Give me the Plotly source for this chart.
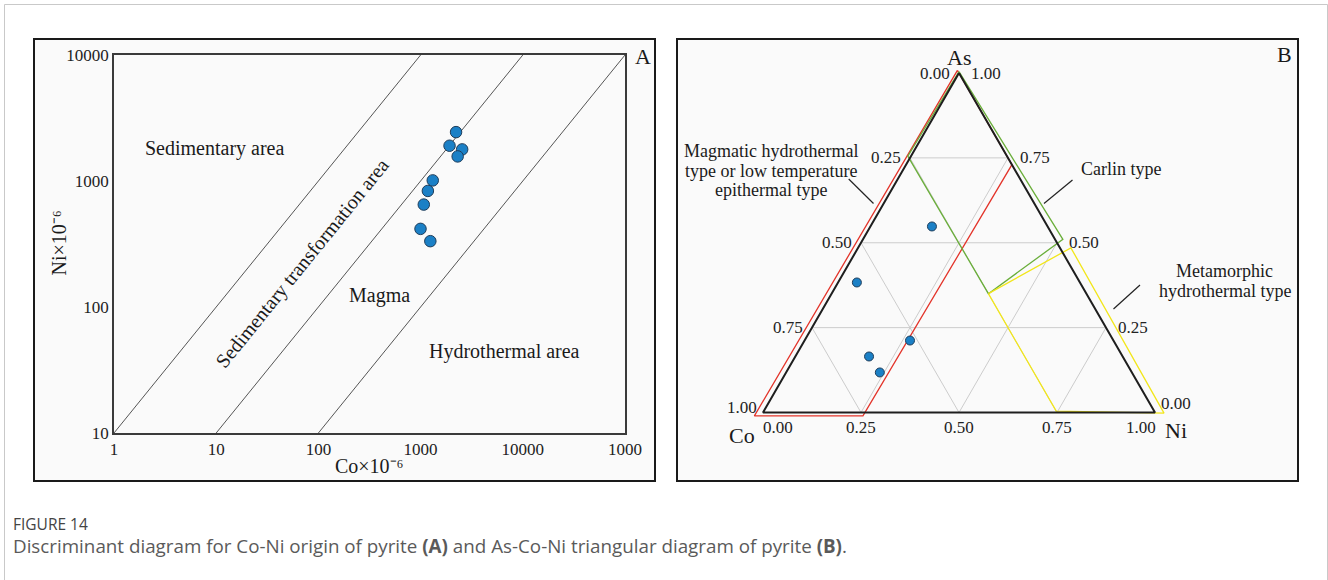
import math
import plotly.graph_objects as go

W, H = 1328, 580
SERIF = "Liberation Serif, Times New Roman, serif"
SANS = "Open Sans, Noto Sans, sans-serif"


def px(x):
    return x / W


def py(y):
    return 1 - y / H


# ---------------- Panel A: Co-Ni origin discriminant diagram ----------------
co_ppm = [2223, 1919, 2551, 2305, 1315, 1178, 1074, 998, 1245]
ni_ppm = [2443, 1905, 1782, 1567, 1011, 834, 650, 417, 333]

# boundary lines Ni = ratio * Co
boundary_ratios = [10, 1, 0.1]
a_ni_limits = [10, 10000]

a_tickvals = [1, 10, 100, 1000, 10000, 100000]
a_xticktext = ["1", "10", "100", "1000", "10000", "1000"]
a_ytickvals = [10, 100, 1000, 10000]
a_yticktext = ["10", "100", "1000", "10000"]

# ---------------- Panel B: As-Co-Ni ternary diagram ----------------
pt_as = [0.548, 0.383, 0.212, 0.165, 0.118]
pt_co = [0.295, 0.569, 0.519, 0.647, 0.643]
pt_ni = [0.157, 0.048, 0.269, 0.188, 0.239]

grid_vals = [0.25, 0.5, 0.75]
tern_ticks = [0.0, 0.25, 0.5, 0.75, 1.0]

# field outlines (As, Co, Ni)
red_as = [1.008, -0.010, -0.010, 0.730, 1.008]
red_co = [0.000, 1.027, 0.750, 0.000, 0.000]
red_ni = [-0.008, -0.017, 0.260, 0.270, -0.008]

green_as = [1.004, 0.755, 0.350, 0.510, 1.004]
green_co = [-0.002, 0.253, 0.250, -0.020, -0.002]
green_ni = [-0.002, -0.008, 0.400, 0.510, -0.002]

yellow_as = [0.350, 0.485, -0.002, 0.004, 0.350]
yellow_co = [0.250, -0.028, -0.022, 0.250, 0.250]
yellow_ni = [0.400, 0.543, 1.024, 0.746, 0.400]

S3 = math.sqrt(3) / 2


def tx(a, b, c):
    # Co at (0,0), Ni at (1,0), As at the top vertex
    return c + a / 2


def ty(a, b, c):
    return a * S3


def tern_xy(A, B, C):
    return [tx(a, b, c) for a, b, c in zip(A, B, C)], [ty(a, b, c) for a, b, c in zip(A, B, C)]


fig = go.Figure()

# panel frames
for x0, x1 in [(34, 655), (677, 1298)]:
    fig.add_shape(type="rect", xref="paper", yref="paper",
                  x0=px(x0), x1=px(x1), y0=py(481), y1=py(39),
                  fillcolor="#fafafa", line=dict(color="#1a1a1a", width=2), layer="below")
# page border (left, top, right)
fig.add_shape(type="path", xref="paper", yref="paper",
              path=f"M {px(4.5)} 0 L {px(4.5)} {py(4.5)} L {px(1327.5)} {py(4.5)} L {px(1327.5)} 0",
              line=dict(color="#c9c9c9", width=1), layer="below")

# boundary lines
for r in boundary_ratios:
    fig.add_trace(go.Scatter(
        x=[a_ni_limits[0] / r, a_ni_limits[1] / r], y=a_ni_limits,
        mode="lines", line=dict(color="#555555", width=1),
        hoverinfo="skip", showlegend=False, xaxis="x", yaxis="y"))

fig.add_trace(go.Scatter(
    x=co_ppm, y=ni_ppm, mode="markers",
    marker=dict(size=11.5, color="#1b80c6", line=dict(color="#1f3d5a", width=1)),
    showlegend=False, xaxis="x", yaxis="y"))

# ternary grid
gx, gy = [], []
for v in grid_vals:
    segs = [
        ((v, 1 - v, 0), (v, 0, 1 - v)),        # As = v
        ((1 - v, v, 0), (0, v, 1 - v)),        # Co = v
        ((1 - v, 0, v), (0, 1 - v, v)),        # Ni = v
    ]
    for p, q in segs:
        gx += [tx(*p), tx(*q), None]
        gy += [ty(*p), ty(*q), None]
fig.add_trace(go.Scatter(x=gx, y=gy, mode="lines", line=dict(color="#cccccc", width=1),
                         hoverinfo="skip", showlegend=False, xaxis="x2", yaxis="y2"))

for A, B, C, col in [(red_as, red_co, red_ni, "#e3342a"),
                     (green_as, green_co, green_ni, "#6aae3a"),
                     (yellow_as, yellow_co, yellow_ni, "#f2e61a")]:
    X, Y = tern_xy(A, B, C)
    fig.add_trace(go.Scatter(x=X, y=Y, mode="lines", line=dict(color=col, width=1.3),
                             hoverinfo="skip", showlegend=False, xaxis="x2", yaxis="y2"))

# triangle outline
TX, TY = tern_xy([1, 0, 0, 1], [0, 1, 0, 0], [0, 0, 1, 0])
fig.add_trace(go.Scatter(x=TX, y=TY, mode="lines", line=dict(color="#1e1e1e", width=2),
                         hoverinfo="skip", showlegend=False, xaxis="x2", yaxis="y2"))

PX, PY = tern_xy(pt_as, pt_co, pt_ni)
fig.add_trace(go.Scatter(
    x=PX, y=PY, mode="markers",
    marker=dict(size=9, color="#1b80c6", line=dict(color="#1f3d5a", width=1)),
    showlegend=False, xaxis="x2", yaxis="y2"))

ann = []
tick_font = dict(family=SERIF, size=17, color="#222222")


def fmt(v):
    return f"{v:.2f}"


# left edge: Co fraction
for v in tern_ticks:
    a, b, c = 1 - v, v, 0
    xs, ys = (-4, 5) if v == 1 else (-7, 0)
    ann.append(dict(x=tx(a, b, c), y=ty(a, b, c), xref="x2", yref="y2", text=fmt(v),
                    xanchor="right", yanchor="middle",
                    xshift=xs, yshift=ys, font=tick_font))
# right edge: As fraction
for v in tern_ticks:
    a, b, c = v, 0, 1 - v
    xs, ys = (4, 9) if v == 0 else (10, 0)
    ann.append(dict(x=tx(a, b, c), y=ty(a, b, c), xref="x2", yref="y2", text=fmt(v),
                    xanchor="left", yanchor="middle",
                    xshift=xs, yshift=ys, font=tick_font))
# bottom edge: Ni fraction
for v in tern_ticks:
    a, b, c = 0, 1 - v, v
    anchor = "left" if v == 0 else ("right" if v == 1 else "center")
    xs = -2 if v == 0 else (3 if v == 1 else 0)
    ann.append(dict(x=tx(a, b, c), y=ty(a, b, c), xref="x2", yref="y2", text=fmt(v),
                    xanchor=anchor, yanchor="top",
                    xshift=xs, yshift=-3, font=tick_font))

vert_font = dict(family=SERIF, size=22, color="#1a1a1a")
ann += [
    dict(x=px(958.7), y=py(57), text="As", font=vert_font),
    dict(x=px(742), y=py(436), text="Co", font=vert_font),
    dict(x=px(1176), y=py(430), text="Ni", font=vert_font),
]

lab_font = dict(family=SERIF, size=18, color="#1a1a1a")
for txt, x, y in [("Magmatic hydrothermal", 770.5, 151),
                  ("type or low temperature", 770.5, 170.5),
                  ("epithermal type", 770.5, 190),
                  ("Carlin type", 1121, 168.5),
                  ("Metamorphic", 1224.5, 271),
                  ("hydrothermal type", 1224.5, 290.5)]:
    ann.append(dict(x=px(x), y=py(y), text=txt, font=lab_font))

for x0, y0, x1, y1 in [(848.7, 179, 873.5, 203.5), (1072.5, 180, 1044, 203.5), (1140, 285, 1113.5, 309)]:
    fig.add_shape(type="line", xref="paper", yref="paper",
                  x0=px(x0), y0=py(y0), x1=px(x1), y1=py(y1),
                  line=dict(color="#222222", width=1.2))

# panel A labels
a_font = dict(family=SERIF, size=20, color="#1a1a1a")
ann += [
    dict(x=px(214), y=py(148.5), text="Sedimentary area", font=a_font),
    dict(x=px(302), y=py(263), text="Sedimentary transformation area", font=a_font, textangle=-51),
    dict(x=px(379), y=py(295.5), text="Magma", font=a_font),
    dict(x=px(504), y=py(351.5), text="Hydrothermal area", font=a_font),
    dict(x=px(369), y=py(466), text="Co×10⁻⁶", font=dict(family=SERIF, size=20, color="#1a1a1a")),
    dict(x=px(58.5), y=py(243), text="Ni×10⁻⁶", textangle=-90,
         font=dict(family=SERIF, size=20, color="#1a1a1a")),
    dict(x=px(643), y=py(56.5), text="A", font=dict(family=SERIF, size=22, color="#1a1a1a")),
    dict(x=px(1284), y=py(54.5), text="B", font=dict(family=SERIF, size=22, color="#1a1a1a")),
]

# caption
ann += [
    dict(x=px(11), y=py(524), text="FIGURE 14", xanchor="left",
         font=dict(family=SANS, size=15.5, color="#444444")),
    dict(x=px(11), y=py(546), xanchor="left",
         text="Discriminant diagram for Co-Ni origin of pyrite <b>(A)</b> and As-Co-Ni triangular diagram of pyrite <b>(B)</b>.",
         font=dict(family=SANS, size=18.8, color="#5a5a5a")),
]

for a in ann:
    a.setdefault("xref", "paper")
    a.setdefault("yref", "paper")
    a.setdefault("xanchor", "center")
    a.setdefault("yanchor", "middle")
    a.setdefault("showarrow", False)
fig.update_layout(annotations=ann)

axis_line = dict(showline=True, mirror=True, linecolor="#3a3a3a", linewidth=1.5,
                 showgrid=False, zeroline=False, ticks="", automargin=False,
                 tickfont=dict(family=SERIF, size=17, color="#222222"))

# panel B axes: 392 px per unit in both directions, Co vertex at pixel (763, 412.5)
side = 392.0
bx0, bx1, by_top, by_bot = 679, 1296, 41, 478
fig.update_layout(
    template="none",
    width=W, height=H, margin=dict(l=0, r=0, t=0, b=0, pad=0), autosize=False,
    paper_bgcolor="white", plot_bgcolor="rgba(0,0,0,0)",
    xaxis=dict(domain=[px(114), px(625)], type="log", range=[0, 5],
               tickvals=a_tickvals, ticktext=a_xticktext, ticklabelstandoff=0, **axis_line),
    yaxis=dict(domain=[py(433), py(55)], type="log", range=[1, 4],
               tickvals=a_ytickvals, ticktext=a_yticktext, ticklabelstandoff=0, **axis_line),
    xaxis2=dict(domain=[px(bx0), px(bx1)], range=[(bx0 - 763) / side, (bx1 - 763) / side],
                visible=False, anchor="y2", automargin=False),
    yaxis2=dict(domain=[py(by_bot), py(by_top)],
                range=[(412.5 - by_bot) / side, (412.5 - by_top) / side],
                visible=False, anchor="x2", automargin=False),
    showlegend=False,
)

fig.write_html("out.html", config={"responsive": False, "displayModeBar": False},
               post_script="document.body.style.margin='0';document.documentElement.style.overflow='hidden';")
